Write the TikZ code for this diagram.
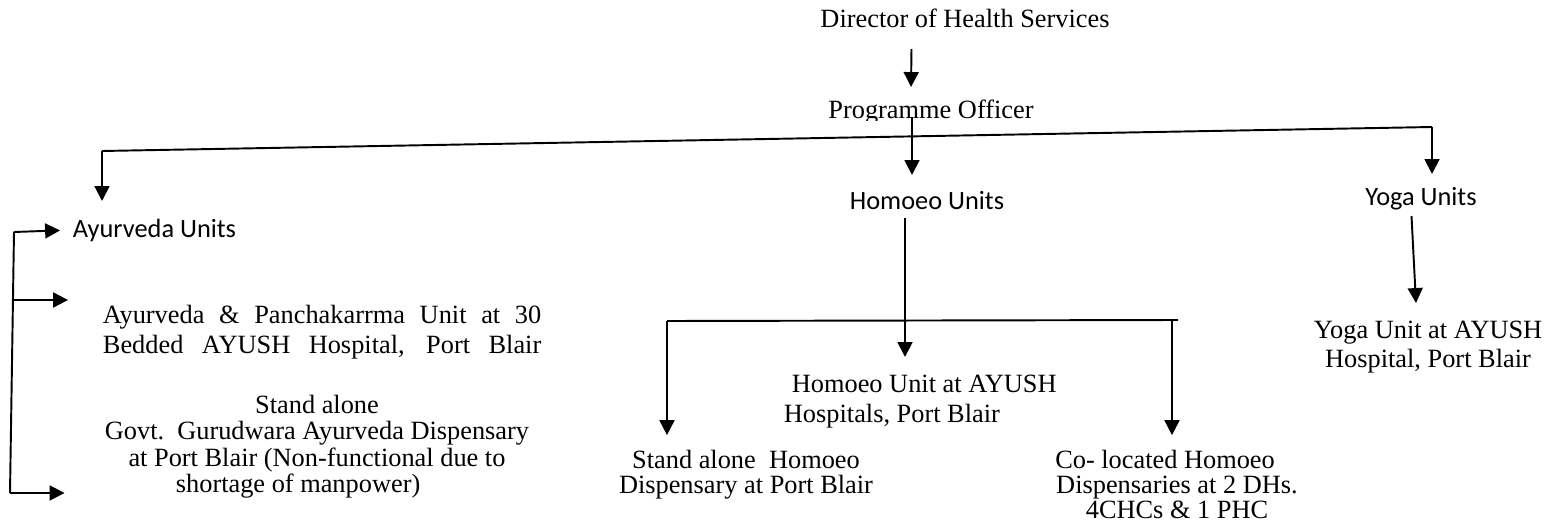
\documentclass[tikz,border=0pt]{standalone}
\usepackage{fontspec}
\setmainfont{Liberation Serif}
\newfontfamily\calibri{Carlito}
\usepackage{tikz}
\usetikzlibrary{arrows.meta}

\begin{document}
\begin{tikzpicture}[
    x=0.02cm, y=-0.02cm,
    line width=1.1pt,
    txt/.style={inner sep=0, align=center, font=\fontsize{15}{#1}\selectfont},
    txt/.default=17,
    unit/.style={inner sep=0, anchor=base, font=\calibri\fontsize{15}{17}\selectfont},
    arr/.style={-{Triangle[length=8.5pt, width=8.5pt]}},
]
\useasboundingbox (0,0) rectangle (1553,521);

\node[txt, anchor=base] (dir) at (965,27) {Director of Health Services};
\begin{scope}
\clip (780,80) rectangle (1100,120);
\node[txt, anchor=base] (prog) at (931,118) {Programme Officer};
\end{scope}

\node[unit, anchor=base west] (ayur) at (72,237) {Ayurveda Units};
\node[unit] (homoeo) at (927,209) {Homoeo Units};
\node[unit] (yoga) at (1421,205) {Yoga Units};

\node[txt=17, align=left, anchor=north west] (panch) at (102,304)
    {\makebox[249.5pt][s]{Ayurveda \& Panchakarrma Unit at 30}\\
     \makebox[249.5pt][s]{Bedded AYUSH Hospital, Port Blair}};
\node[txt=15.1, anchor=north] (govt) at (317,394)
    {Stand alone\\ Govt.~~Gurudwara Ayurveda Dispensary\\ at Port Blair (Non-functional due to\\ shortage of manpower)\hspace*{21.5pt}};

\node[txt=17, align=left, anchor=north west] (homhosp) at (783,374)
    {\hspace*{4.5pt}Homoeo Unit at AYUSH\\Hospitals, Port Blair};
\node[txt=14.2, anchor=north] (standH) at (746,449) {Stand alone~~Homoeo\\Dispensary at Port Blair};
\node[txt=14.2, anchor=north] (coloc) at (1177,449)
    {Co- located Homoeo\hspace*{13.6pt}\\Dispensaries at 2 DHs.\\4CHCs \& 1 PHC};

\node[txt=16.4, anchor=north] (yogahosp) at (1428,320) {Yoga Unit at AYUSH\\Hospital, Port Blair};

\coordinate (barL) at (102,151);
\coordinate (barR) at (1432,127);
\coordinate (hbL) at (667,321);
\coordinate (hbR) at (1178,320);
\coordinate (hbdrop) at (1172,320);
\coordinate (brT) at (14,232);
\coordinate (brM) at (13,300);
\coordinate (brB) at (10,493);

\draw[arr] ([shift={(-53.5,22)}]dir.base) -- ([shift={(-20,-31)}]prog.base);
\draw (barL) -- (barR);
\draw[arr] ([shift={(-19,-1)}]prog.base) -- ([shift={(-15,-34)}]homoeo.base);
\draw[arr] (barL) -- ([shift={(30,-36)}]ayur.base west);
\draw[arr] (barR) -- ([shift={(11,-31)}]yoga.base);
\draw[arr] ([shift={(-9.5,11)}]yoga.base) -- ([shift={(-12,-17)}]yogahosp.north);
\draw[arr] ([shift={(-22,9)}]homoeo.base) -- ([shift={(122,-17)}]homhosp.north west);
\draw (hbL) -- (hbR);
\draw[arr, shorten >=7.9pt] (hbL) -- (hbL |- standH.north);
\draw[arr, shorten >=7.9pt] (hbdrop) -- (hbdrop |- coloc.north);
\draw (brT) -- (brB);
\draw[arr, shorten >=6.8pt] (brT) -- (ayur.west);
\draw[arr, shorten >=19.3pt] (brM) -- (brM -| panch.west);
\draw[arr, shorten >=22.4pt] (brB) -- (brB -| govt.west);
\end{tikzpicture}
\end{document}
